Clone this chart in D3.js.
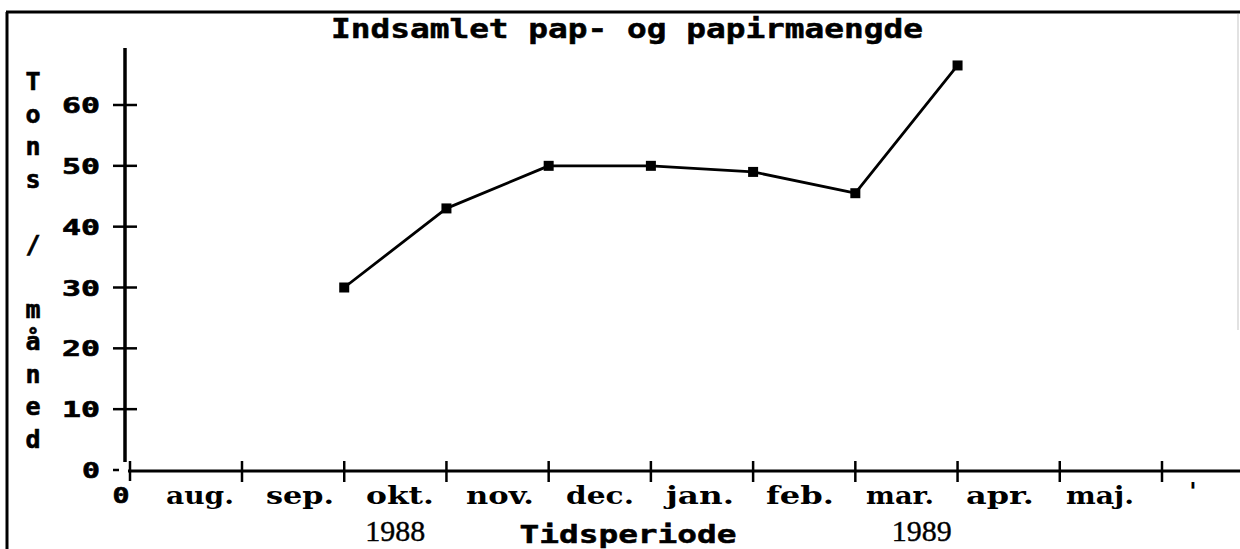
<!DOCTYPE html>
<html>
<head>
<meta charset="utf-8">
<script src="https://cdn.jsdelivr.net/npm/d3@7"></script>
<style>
  body { margin: 0; background: #fff; }
  svg { display: block; }
</style>
</head>
<body>
<div id="my_dataviz"></div>
<script>

// data
var months = ["aug.", "sep.", "okt.", "nov.", "dec.", "jan.", "feb.", "mar.", "apr.", "maj."];
var seriesMonths = ["sep.", "okt.", "nov.", "dec.", "jan.", "feb.", "mar."];
var tons = [30, 43, 50, 50, 49, 45.5, 66.5];
var yTicks = [0, 10, 20, 30, 40, 50, 60];
var years = ["1988", "1989"];
var yearPos = [1.5, 6.65];   // month index the year sits under
var title = "Indsamlet pap- og papirmaengde";
var xTitle = "Tidsperiode";
var yTitle = "Tons / måned";

var width = 1240, height = 549;

var svg = d3.select("#my_dataviz")
  .append("svg")
    .attr("width", width)
    .attr("height", height);

var pixFont = "'DejaVu Sans Mono', monospace";
var typeFont = "'DejaVu Serif', 'Liberation Serif', serif";

// scales
var x = d3.scaleLinear()
  .domain([0, months.length - 1])
  .range([242, 1162]);

// month names were typed in a bit left of the ticks
var xLab = d3.scaleLinear()
  .domain([0, months.length - 1])
  .range([200, 1100]);

var y = d3.scaleLinear()
  .domain([0, 60])
  .range([470, 105]);

var axisX = 125;

// frame
svg.append("line")
  .attr("x1", 7).attr("x2", 7).attr("y1", 12).attr("y2", height)
  .attr("stroke", "#000").attr("stroke-width", 3);
svg.append("line")
  .attr("x1", 6).attr("x2", width).attr("y1", 12).attr("y2", 12)
  .attr("stroke", "#000").attr("stroke-width", 3);
svg.append("line")
  .attr("x1", 1238).attr("x2", 1238).attr("y1", 14).attr("y2", 330)
  .attr("stroke", "#d8d8d8").attr("stroke-width", 1.5);

// title
svg.append("text")
  .attr("x", 627).attr("y", 38)
  .attr("text-anchor", "middle")
  .attr("font-family", pixFont)
  .attr("font-weight", "bold")
  .attr("font-size", 26)
  .attr("stroke", "#000").attr("stroke-width", 0.5)
  .attr("textLength", 592)
  .attr("lengthAdjust", "spacingAndGlyphs")
  .text(title);

// y axis line
svg.append("line")
  .attr("x1", axisX).attr("x2", axisX)
  .attr("y1", 48).attr("y2", y(0) - 8)
  .attr("stroke", "#000").attr("stroke-width", 3.5);

// y ticks
var yt = svg.selectAll(".ytick")
  .data(yTicks)
  .enter()
  .append("g")
    .attr("class", "ytick")
    .attr("transform", function(d) { return "translate(0," + y(d) + ")"; });

yt.append("line")
  .attr("x1", 113)
  .attr("x2", function(d) { return d == 0 ? 119 : 137; })
  .attr("stroke", "#000").attr("stroke-width", 2.5);

yt.append("text")
  .attr("x", 100)
  .attr("y", 8)
  .attr("text-anchor", "end")
  .attr("font-family", pixFont)
  .attr("font-weight", "bold")
  .attr("font-size", 21)
  .attr("stroke", "#000").attr("stroke-width", 0.6)
  .attr("textLength", function(d) { return String(d).length == 1 ? 18 : 38; })
  .attr("lengthAdjust", "spacingAndGlyphs")
  .text(function(d) { return d; });

// y title, one letter under the other
svg.selectAll(".ylet")
  .data(yTitle.split(""))
  .enter()
  .append("text")
    .attr("class", "ylet")
    .attr("x", 33)
    .attr("y", function(d, i) { return 90 + i * 32.5; })
    .attr("text-anchor", "middle")
    .attr("font-family", pixFont)
    .attr("font-weight", "bold")
    .attr("font-size", 25)
    .attr("stroke", "#000").attr("stroke-width", 0.6)
    .text(function(d) { return d; });

// x axis line
svg.append("line")
  .attr("x1", 128).attr("x2", width)
  .attr("y1", 471).attr("y2", 471)
  .attr("stroke", "#000").attr("stroke-width", 3);

// origin tick
svg.append("line")
  .attr("x1", 130).attr("x2", 130)
  .attr("y1", 461).attr("y2", 481)
  .attr("stroke", "#000").attr("stroke-width", 2.5);

// month ticks
svg.selectAll(".xtick")
  .data(months)
  .enter()
  .append("line")
    .attr("class", "xtick")
    .attr("x1", function(d, i) { return x(i); })
    .attr("x2", function(d, i) { return x(i); })
    .attr("y1", 461).attr("y2", 482)
    .attr("stroke", "#000").attr("stroke-width", 2.5);

// month labels
svg.append("text")
  .attr("x", 121).attr("y", 503)
  .attr("text-anchor", "middle")
  .attr("font-family", pixFont).attr("font-weight", "bold").attr("font-size", 21)
  .attr("stroke", "#000").attr("stroke-width", 0.6)
  .attr("textLength", 17).attr("lengthAdjust", "spacingAndGlyphs")
  .text("0");

svg.selectAll(".xlab")
  .data(months)
  .enter()
  .append("text")
    .attr("class", "xlab")
    .attr("x", function(d, i) { return xLab(i); })
    .attr("y", 504)
    .attr("text-anchor", "middle")
    .attr("font-family", typeFont)
    .attr("font-weight", "bold")
    .attr("font-size", 24)
    .attr("textLength", 68)
    .attr("lengthAdjust", "spacingAndGlyphs")
    .text(function(d) { return d; });

svg.append("text")
  .attr("x", 1193).attr("y", 500)
  .attr("text-anchor", "middle")
  .attr("font-family", typeFont).attr("font-weight", "bold").attr("font-size", 24)
  .text("'");

// years
svg.selectAll(".year")
  .data(years)
  .enter()
  .append("text")
    .attr("class", "year")
    .attr("x", function(d, i) { return x(yearPos[i]); })
    .attr("y", 541)
    .attr("text-anchor", "middle")
    .attr("font-family", "'Liberation Serif', serif")
    .attr("font-size", 30)
    .attr("stroke", "#000").attr("stroke-width", 0.4)
    .text(function(d) { return d; });

// x title
svg.append("text")
  .attr("x", 628).attr("y", 543)
  .attr("text-anchor", "middle")
  .attr("font-family", pixFont)
  .attr("font-weight", "bold")
  .attr("font-size", 25)
  .attr("stroke", "#000").attr("stroke-width", 0.5)
  .attr("textLength", 217)
  .attr("lengthAdjust", "spacingAndGlyphs")
  .text(xTitle);

// the series
var pts = seriesMonths.map(function(m, i) {
  return { i: months.indexOf(m), v: tons[i] };
});

var line = d3.line()
  .x(function(d) { return x(d.i); })
  .y(function(d) { return y(d.v); });

svg.append("path")
  .datum(pts)
  .attr("fill", "none")
  .attr("stroke", "#000")
  .attr("stroke-width", 2.8)
  .attr("stroke-linejoin", "round")
  .attr("d", line);

svg.selectAll(".pt")
  .data(pts)
  .enter()
  .append("rect")
    .attr("class", "pt")
    .attr("x", function(d) { return x(d.i) - 5; })
    .attr("y", function(d) { return y(d.v) - 5; })
    .attr("width", 10)
    .attr("height", 10)
    .attr("fill", "#000");

</script>
</body>
</html>
